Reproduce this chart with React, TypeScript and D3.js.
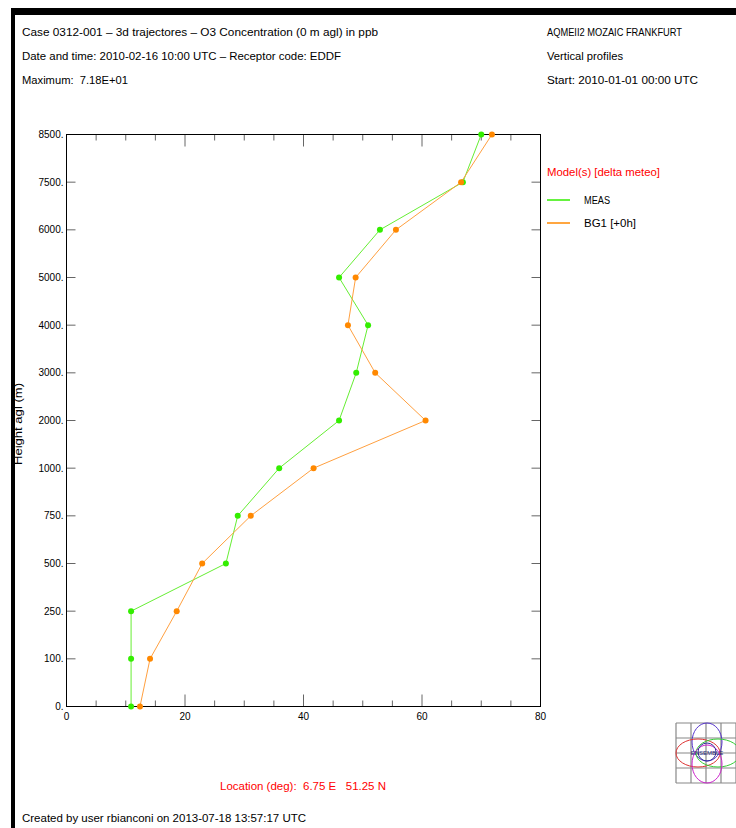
import React from "react";
import * as d3 from "d3";

const levels = ["0", "100", "250", "500", "750", "1000", "2000", "3000", "4000", "5000", "6000", "7500", "8500"];
const meas = [10.9, 10.9, 10.9, 26.9, 28.9, 35.9, 46.0, 48.9, 50.9, 46.0, 52.9, 66.9, 70.0];
const bg1 = [12.4, 14.1, 18.6, 22.9, 31.1, 41.7, 60.6, 52.1, 47.5, 48.8, 55.6, 66.6, 71.8];
const xTicks = [0, 20, 40, 60, 80];

const headerLeft = [
    "Case 0312-001 \u2013 3d trajectores \u2013 O3 Concentration (0 m agl) in ppb",
    "Date and time: 2010-02-16 10:00 UTC \u2013 Receptor code: EDDF",
    "Maximum:  7.18E+01",
];
const headerRight = ["AQMEII2 MOZAIC FRANKFURT", "Vertical profiles", "Start: 2010-01-01 00:00 UTC"];

const series = [
    { name: "MEAS", values: meas, line: "#66ee33", dot: "#33ee00" },
    { name: "BG1 [+0h]", values: bg1, line: "#ffa040", dot: "#ff8800" },
];

const W = 736;
const H = 828;
const font = "'Liberation Sans', Arial, sans-serif";

// text drawn to the width it takes in the reference
const T = ({ x, y, w, fill = "black", anchor = "start", transform, children }: any) => (
    <text
        x={x}
        y={y}
        textLength={w}
        lengthAdjust="spacingAndGlyphs"
        textAnchor={anchor}
        fill={fill}
        transform={transform}
        style={{ whiteSpace: "pre" }}
    >
        {children}
    </text>
);

const Logo = () => (
    <g>
        {d3.range(5).map(i => (
            <g key={i}>
                <line x1={676 + i * 15} x2={676 + i * 15} y1={723} y2={783} stroke="#888" strokeWidth={1.2} />
                <line x1={676} x2={740} y1={723 + i * 15} y2={723 + i * 15} stroke="#888" strokeWidth={1.2} />
            </g>
        ))}
        <ellipse cx={707} cy={742} rx={15} ry={19} fill="none" stroke="#5533cc" />
        <ellipse cx={698} cy={753} rx={22} ry={14} fill="none" stroke="#dd3333" />
        <ellipse cx={718} cy={753} rx={22} ry={14} fill="none" stroke="#33cc33" />
        <ellipse cx={707} cy={764} rx={15} ry={19} fill="none" stroke="#cc22cc" />
        <circle cx={707} cy={752} r={9} fill="none" stroke="#333399" />
        <text x={707} y={754.5} textAnchor="middle" fontSize={6} fontFamily={font} fill="#222277">ENSEMBLE</text>
    </g>
);

const App = () => {
    const x = d3.scaleLinear().domain([0, 80]).range([66.5, 540.5]);
    const y = d3.scalePoint().domain(levels).range([706.5, 134.5]);
    const left = x(0);
    const right = x(80);
    const top = y("8500")!;
    const bottom = y("0")!;

    const minor = d3.range(5, 80, 5);
    const line = d3
        .line<number>()
        .x(d => x(d))
        .y((d, i) => y(levels[i])!);

    const leftW = [356, 319, 106];
    const rightW = [135, 76, 151];

    return (
        <svg width={W} height={H} style={{ position: "absolute", left: 0, top: 0 }}>
            <rect x={0} y={0} width={W} height={H} fill="white" />
            <rect x={11} y={8} width={4} height={H} fill="black" />
            <rect x={11} y={8} width={W} height={7} fill="black" />

            <g fontFamily={font} fontSize={10}>
                {headerLeft.map((t, i) => (
                    <T key={i} x={22} y={36 + i * 24} w={leftW[i]}>{t}</T>
                ))}
                {headerRight.map((t, i) => (
                    <T key={i} x={547} y={36 + i * 24} w={rightW[i]}>{t}</T>
                ))}
            </g>

            {/* ticks */}
            <g stroke="#666" strokeWidth={1}>
                {minor.map(v => {
                    const len = v % 20 === 0 ? 12 : 6;
                    return (
                        <g key={v}>
                            <line x1={x(v)} x2={x(v)} y1={top} y2={top + len} />
                            <line x1={x(v)} x2={x(v)} y1={bottom} y2={bottom - len} />
                        </g>
                    );
                })}
                {levels.map(l => (
                    <g key={l}>
                        <line x1={left} x2={left + 9} y1={y(l)} y2={y(l)} />
                        <line x1={right} x2={right - 9} y1={y(l)} y2={y(l)} />
                    </g>
                ))}
            </g>
            <rect x={left} y={top} width={right - left} height={bottom - top} fill="none" stroke="black" strokeWidth={1} />

            <g fontFamily={font} fontSize={10} fill="black">
                {levels.map(l => (
                    <text key={l} x={left - 3} y={y(l)! + 3.5} textAnchor="end">{l + "."}</text>
                ))}
                {xTicks.map(v => (
                    <text key={v} x={x(v)} y={720} textAnchor="middle">{v}</text>
                ))}
                <T x={0} y={0} w={82} anchor="middle" transform={`translate(22 424) rotate(-90)`}>Height agl (m)</T>
            </g>

            {series.map(s => (
                <g key={s.name}>
                    <path d={line(s.values) || ""} fill="none" stroke={s.line} strokeWidth={1} />
                    {s.values.map((v, i) => (
                        <circle key={i} cx={x(v)} cy={y(levels[i])} r={3} fill={s.dot} />
                    ))}
                </g>
            ))}

            <g fontFamily={font} fontSize={10}>
                <T x={547} y={176} w={113} fill="red">Model(s) [delta meteo]</T>
                {series.map((s, i) => (
                    <g key={s.name}>
                        <line x1={547} x2={570} y1={200 + i * 23} y2={200 + i * 23} stroke={s.dot} strokeWidth={1.5} />
                        <T x={584} y={204 + i * 23} w={i === 0 ? 26 : 52}>{s.name}</T>
                    </g>
                ))}
                <T x={220} y={790} w={166} fill="red">{"Location (deg):  6.75 E   51.25 N"}</T>
                <T x={22} y={822} w={284}>Created by user rbianconi on 2013-07-18 13:57:17 UTC</T>
            </g>

            <Logo />
        </svg>
    );
};

export default App;
